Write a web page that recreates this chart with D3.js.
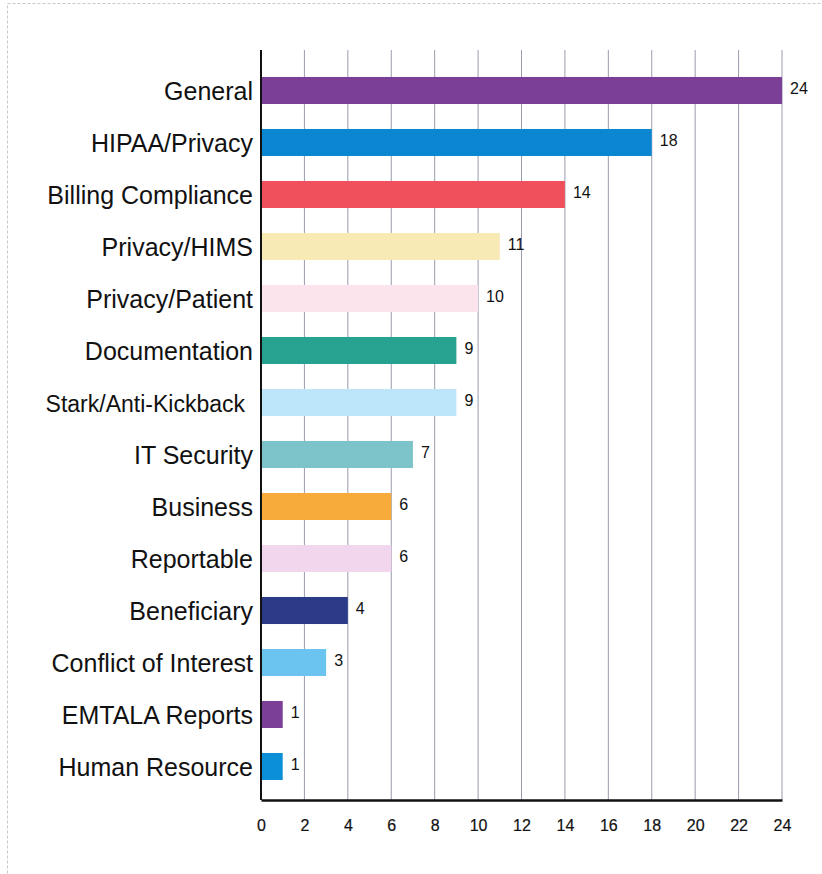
<!DOCTYPE html>
<html>
<head>
<meta charset="utf-8">
<script src="https://cdn.jsdelivr.net/npm/d3@7"></script>
<style>
  body { margin: 0; background: #fff; }
  svg text { font-family: "Liberation Sans", Arial, sans-serif; fill: #111; }
</style>
</head>
<body>
<svg id="chart" width="822" height="874"></svg>
<script>
var categories = ['General', 'HIPAA/Privacy', 'Billing Compliance', 'Privacy/HIMS', 'Privacy/Patient',
    'Documentation', 'Stark/Anti-Kickback', 'IT Security', 'Business', 'Reportable',
    'Beneficiary', 'Conflict of Interest', 'EMTALA Reports', 'Human Resource'];
var counts = [24, 18, 14, 11, 10, 9, 9, 7, 6, 6, 4, 3, 1, 1];
var colors = ['#7b3f98', '#0b87d1', '#f0505c', '#f8eab4', '#fbe4ec', '#27a190', '#bee6fa', '#7dc4ca',
    '#f7ab3b', '#f1d6ed', '#2c3b87', '#6bc3ef', '#7b3f98', '#0b90d8'];
var xTicks = [0, 2, 4, 6, 8, 10, 12, 14, 16, 18, 20, 22, 24];

var svg = d3.select('#chart'),
    plotLeft = 261, plotRight = 782, plotTop = 50, plotBottom = 800;

// dashed frame around the whole picture
svg.append('rect')
    .attr('x', 7.5).attr('y', 3.5).attr('width', 830).attr('height', 880)
    .attr('fill', 'none').attr('stroke', '#c8c8c8').attr('stroke-dasharray', '3,2');

var x = d3.scaleLinear().domain([0, 24]).range([plotLeft, plotRight]);
var y = d3.scaleBand().domain(categories).range([64.5, 792.5])
    .paddingInner(0.48).paddingOuter(0.24);

// gridlines
svg.append('g').selectAll('line')
    .data(xTicks.slice(1))
    .join('line')
    .attr('x1', d => x(d)).attr('x2', d => x(d))
    .attr('y1', plotTop).attr('y2', plotBottom)
    .attr('stroke', '#9a9cae').attr('stroke-width', 1);

// bars
svg.append('g').selectAll('rect')
    .data(counts)
    .join('rect')
    .attr('x', x(0))
    .attr('y', (d, i) => y(categories[i]))
    .attr('width', d => x(d) - x(0))
    .attr('height', y.bandwidth())
    .attr('fill', (d, i) => colors[i]);

// value labels
svg.append('g').selectAll('text')
    .data(counts)
    .join('text')
    .attr('x', d => x(d) + 8)
    .attr('y', (d, i) => y(categories[i]) + y.bandwidth() / 2 - 2)
    .attr('dy', '0.35em')
    .attr('font-size', 16)
    .text(d => d);

// category labels
svg.append('g').selectAll('text')
    .data(categories)
    .join('text')
    .attr('x', d => d === 'Stark/Anti-Kickback' ? plotLeft - 16 : plotLeft - 8)
    .attr('y', d => y(d) + y.bandwidth() / 2 + 1)
    .attr('dy', '0.35em')
    .attr('text-anchor', 'end')
    .attr('font-size', d => d === 'Stark/Anti-Kickback' ? 23 : 25)
    .text(d => d);

// axes
var xAxis = d3.axisBottom(x).tickValues(xTicks).tickSize(0).tickPadding(20);
var gx = svg.append('g').attr('transform', 'translate(0,' + plotBottom + ')').call(xAxis);
gx.select('.domain').attr('stroke', '#111').attr('stroke-width', 2.5);
gx.selectAll('text').attr('font-size', 16).attr('font-family', '"Liberation Sans", Arial, sans-serif')
    .attr('fill', '#111').attr('stroke', '#111').attr('stroke-width', 0.2);

svg.append('line')
    .attr('x1', plotLeft).attr('x2', plotLeft)
    .attr('y1', plotTop).attr('y2', plotBottom)
    .attr('stroke', '#111').attr('stroke-width', 2);
</script>
</body>
</html>
